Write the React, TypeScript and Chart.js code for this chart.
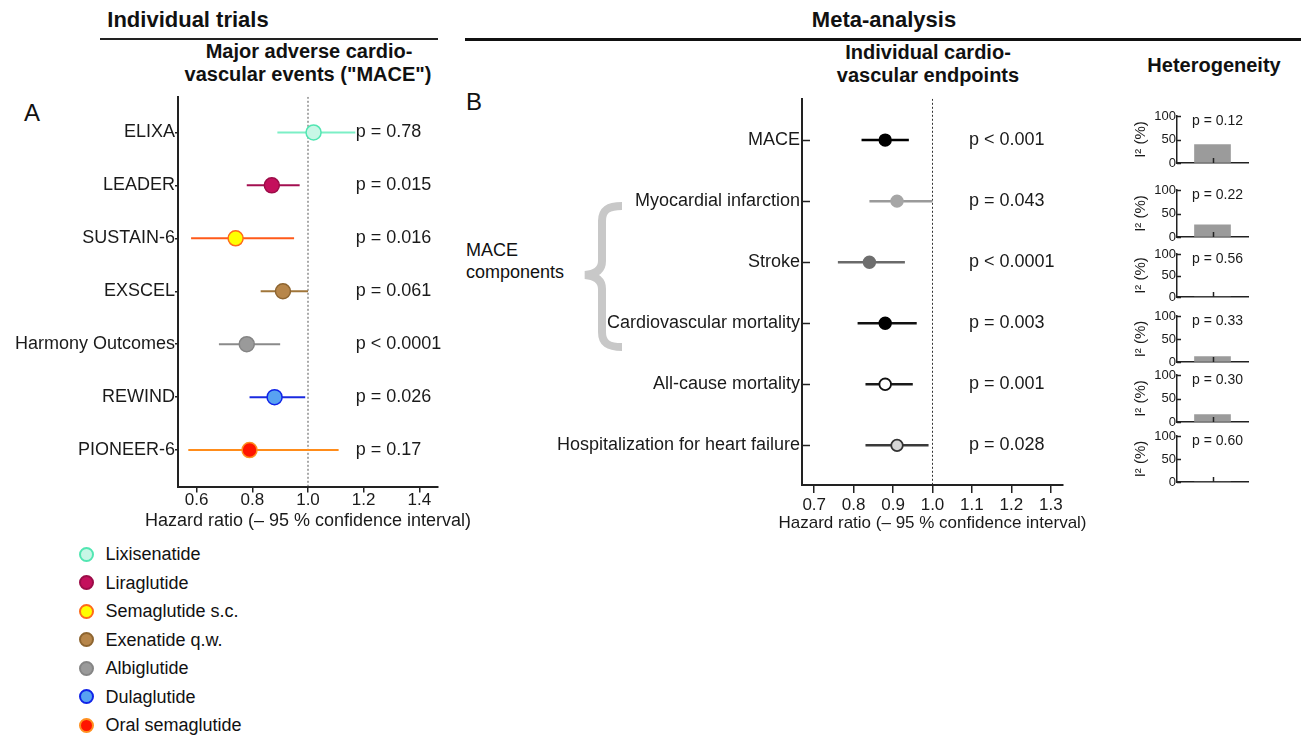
import React, { useEffect, useRef } from 'react';
import { Chart, registerables } from 'chart.js';

Chart.register(...registerables);

const FONT = "'Liberation Sans', Arial, Helvetica, sans-serif";
Chart.defaults.font.family = FONT;
Chart.defaults.color = '#1a1a1a';

// ---------------- Panel A: individual trials ----------------
const trialsA = ['ELIXA', 'LEADER', 'SUSTAIN-6', 'EXSCEL', 'Harmony Outcomes', 'REWIND', 'PIONEER-6'];
const hrA = [1.02, 0.87, 0.74, 0.91, 0.78, 0.88, 0.79];
const loA = [0.89, 0.78, 0.58, 0.83, 0.68, 0.79, 0.57];
const hiA = [1.17, 0.97, 0.95, 1.0, 0.9, 0.99, 1.11];
const pA = ['p = 0.78', 'p = 0.015', 'p = 0.016', 'p = 0.061', 'p < 0.0001', 'p = 0.026', 'p = 0.17'];
const drugsA = ['Lixisenatide', 'Liraglutide', 'Semaglutide s.c.', 'Exenatide q.w.', 'Albiglutide', 'Dulaglutide', 'Oral semaglutide'];
const fillA = ['#c8f7e6', '#c4105c', '#ffff00', '#b7864a', '#9a9a9a', '#58a2f2', '#ff1500'];
const edgeA = ['#52e6b2', '#9c0c48', '#ff6a1a', '#8e6530', '#858585', '#1024e8', '#ff9020'];
const lineA = ['#7cefc6', '#a30f50', '#ff5a1a', '#a0763a', '#8a8a8a', '#1a2ae0', '#ff8c1a'];
const xRangeA = [0.533, 1.467];
const xStepA = 0.2;
const xTitle = 'Hazard ratio (– 95 % confidence interval)';

// ---------------- Panel B: meta-analysis ----------------
const endpointsB = ['MACE', 'Myocardial infarction', 'Stroke', 'Cardiovascular mortality', 'All-cause mortality', 'Hospitalization for heart failure'];
const hrB = [0.88, 0.91, 0.84, 0.88, 0.88, 0.91];
const loB = [0.82, 0.84, 0.76, 0.81, 0.83, 0.83];
const hiB = [0.94, 1.0, 0.93, 0.96, 0.95, 0.99];
const pB = ['p < 0.001', 'p = 0.043', 'p < 0.0001', 'p = 0.003', 'p = 0.001', 'p = 0.028'];
const fillB = ['#000000', '#a6a6a6', '#6e6e6e', '#000000', '#ffffff', '#d6d6d6'];
const edgeB = ['#000000', '#a6a6a6', '#6e6e6e', '#000000', '#111111', '#333333'];
const lineB = ['#000000', '#9a9a9a', '#6a6a6a', '#111111', '#1a1a1a', '#3a3a3a'];
const xRangeB = [0.669, 1.331];
const xStepB = 0.1;

// ---------------- Heterogeneity ----------------
const i2Values = [39, 26, 0, 12, 16, 0];
const i2P = ['p = 0.12', 'p = 0.22', 'p = 0.56', 'p = 0.33', 'p = 0.30', 'p = 0.60'];
const i2Max = 100;
const i2Step = 50;

// layout (page pixel positions of each heterogeneity panel: y of 100 and y of 0)
const hetY100 = [116, 190, 254, 316, 375, 436];
const hetY0 = [163, 237, 297, 362, 422, 482];

const AXIS = '#222222';

type ForestProps = {
  left: number; top: number; width: number; height: number;
  padTop: number; padRight: number; yWidth: number; xHeight: number;
  labels: string[]; hr: number[]; lo: number[]; hi: number[]; p: string[];
  fill: string[]; edge: string[]; line: string[];
  xMin: number; xMax: number; step: number; yMin: number; yMax: number;
  xTickLen: number; xTickPad: number; tickFont: number; labelFont: number; titleFont: number;
  titleY: number;
  yTickLen: number; inwardY: number; pX: number;
  r: number; pbw: number; lw: number; refColor: string;
};

function Forest(p: ForestProps) {
  const ref = useRef<HTMLCanvasElement>(null);
  useEffect(() => {
    const datasets: any[] = [];
    datasets.push({
      data: p.hr.map((v, i) => ({ x: v, y: i })),
      pointRadius: p.r, pointHoverRadius: p.r,
      pointBackgroundColor: p.fill, pointBorderColor: p.edge, pointBorderWidth: p.pbw,
      order: 0,
    });
    p.lo.forEach((lo, i) => {
      datasets.push({
        data: [{ x: lo, y: i }, { x: p.hi[i], y: i }],
        showLine: true, borderColor: p.line[i], borderWidth: p.lw,
        pointRadius: 0, pointHoverRadius: 0, order: 1,
      });
    });
    datasets.push({
      data: [{ x: 1, y: p.yMin }, { x: 1, y: p.yMax }],
      showLine: true, borderColor: p.refColor, borderWidth: 1, borderDash: [2, 2],
      pointRadius: 0, pointHoverRadius: 0, order: 2,
    });

    const textPlugin = {
      id: 'ptext',
      afterDraw(chart: any) {
        const ctx = chart.ctx;
        const ys = chart.scales.y;
        const a = chart.chartArea;
        ctx.save();
        ctx.font = `18px ${FONT}`;
        ctx.fillStyle = '#1a1a1a';
        ctx.textBaseline = 'middle';
        ctx.textAlign = 'left';
        p.p.forEach((t, i) => ctx.fillText(t, p.pX, ys.getPixelForValue(i)));
        // axis title (drawn here so it is not squeezed to the axis width)
        ctx.font = `${p.titleFont}px ${FONT}`;
        ctx.textAlign = 'center';
        ctx.fillText(xTitle, (a.left + a.right) / 2, p.titleY - p.top);
        if (p.inwardY > 0) {
          ctx.strokeStyle = AXIS;
          ctx.lineWidth = 1.5;
          p.labels.forEach((_, i) => {
            const y = Math.round(ys.getPixelForValue(i)) + 0.5;
            ctx.beginPath();
            ctx.moveTo(a.left, y);
            ctx.lineTo(a.left + p.inwardY, y);
            ctx.stroke();
          });
        }
        ctx.restore();
      },
    };

    const chart = new Chart(ref.current as HTMLCanvasElement, {
      type: 'scatter',
      data: { datasets },
      options: {
        animation: false,
        responsive: false,
        devicePixelRatio: 1,
        events: [],
        layout: { padding: { top: p.padTop, right: p.padRight, left: 0, bottom: 0 } },
        plugins: { legend: { display: false }, tooltip: { enabled: false } },
        scales: {
          x: {
            type: 'linear', min: p.xMin, max: p.xMax,
            afterFit: (s: any) => { s.height = p.xHeight; },
            ticks: {
              stepSize: p.step, includeBounds: false, autoSkip: false, maxRotation: 0,
              callback: (v: any) => Number(v).toFixed(1),
              font: { size: p.tickFont, lineHeight: 1 }, color: '#1a1a1a', padding: p.xTickPad,
            },
            grid: { display: true, drawOnChartArea: false, drawTicks: true, tickLength: p.xTickLen, color: AXIS, lineWidth: 1.5 },
            border: { display: true, color: AXIS, width: 2 },
            title: { display: false },
          },
          y: {
            type: 'linear', reverse: true, min: p.yMin, max: p.yMax,
            afterFit: (s: any) => { s.width = p.yWidth; },
            ticks: {
              stepSize: 1, includeBounds: false, autoSkip: false,
              callback: (v: any) => (Number.isInteger(v) && p.labels[v] !== undefined ? p.labels[v] : ''),
              font: { size: p.labelFont }, color: '#1a1a1a', padding: p.yTickLen > 0 ? 0 : 2,
            },
            grid: { display: true, drawOnChartArea: false, drawTicks: p.yTickLen > 0, tickLength: p.yTickLen, color: AXIS, lineWidth: 1.5 },
            border: { display: true, color: AXIS, width: 2 },
          },
        },
      },
      plugins: [textPlugin],
    } as any);
    return () => chart.destroy();
  }, []);
  return (
    <canvas ref={ref} width={p.width} height={p.height}
      style={{ position: 'absolute', left: p.left, top: p.top, width: p.width, height: p.height, display: 'block' }} />
  );
}

function HetPanel({ idx }: { idx: number }) {
  const ref = useRef<HTMLCanvasElement>(null);
  const left = 1125;
  const top = hetY100[idx] - 9;
  const width = 127;
  const height = hetY0[idx] - hetY100[idx] + 18;
  useEffect(() => {
    const plug = {
      id: 'hetText',
      afterDraw(chart: any) {
        const ctx = chart.ctx;
        const a = chart.chartArea;
        ctx.save();
        ctx.strokeStyle = AXIS;
        ctx.lineWidth = 1.5;
        const cx = Math.round((a.left + a.right) / 2) + 0.5;
        ctx.beginPath();
        ctx.moveTo(cx, a.bottom);
        ctx.lineTo(cx, a.bottom - 5);
        ctx.stroke();
        const ys = chart.scales.y;
        [0, i2Step, i2Max].forEach((v) => {
          const y = Math.round(ys.getPixelForValue(v)) + 0.5;
          ctx.beginPath();
          ctx.moveTo(a.left, y);
          ctx.lineTo(a.left + 4, y);
          ctx.stroke();
        });
        ctx.font = `14px ${FONT}`;
        ctx.fillStyle = '#1a1a1a';
        ctx.textAlign = 'center';
        ctx.textBaseline = 'middle';
        ctx.fillText(i2P[idx], (a.left + a.right) / 2 + 5, a.top + 5);
        ctx.restore();
      },
    };
    const chart = new Chart(ref.current as HTMLCanvasElement, {
      type: 'bar',
      data: {
        labels: [''],
        datasets: [{ data: [i2Values[idx]], backgroundColor: '#9b9b9b', barThickness: 36 }],
      },
      options: {
        animation: false,
        responsive: false,
        devicePixelRatio: 1,
        events: [],
        layout: { padding: { top: 9, right: 4, left: 0, bottom: 0 } },
        plugins: { legend: { display: false }, tooltip: { enabled: false } },
        scales: {
          x: {
            type: 'category',
            afterFit: (s: any) => { s.height = 9; },
            ticks: { display: false },
            grid: { display: false },
            border: { display: true, color: AXIS, width: 1.5 },
          },
          y: {
            type: 'linear', min: 0, max: i2Max,
            afterFit: (s: any) => { s.width = 1177 - left; },
            ticks: { stepSize: i2Step, font: { size: 13 }, color: '#1a1a1a', padding: 1 },
            grid: { display: true, drawOnChartArea: false, drawTicks: false },
            border: { display: true, color: AXIS, width: 1.5 },
            title: { display: true, text: 'I² (%)', font: { size: 15 }, color: '#1a1a1a', padding: { top: 7, bottom: 0 } },
          },
        },
      },
      plugins: [plug],
    } as any);
    return () => chart.destroy();
  }, []);
  return (
    <canvas ref={ref} width={width} height={height}
      style={{ position: 'absolute', left, top, width, height, display: 'block' }} />
  );
}

function T({ x, y, children, size = 18, bold = false, align = 'left' }: any) {
  const tx = align === 'center' ? '-50%' : align === 'right' ? '-100%' : '0';
  return (
    <div style={{
      position: 'absolute', left: x, top: y, fontSize: size, fontWeight: bold ? 700 : 400,
      lineHeight: 1, whiteSpace: 'nowrap', transform: `translate(${tx}, -50%)`, color: '#111',
    }}>{children}</div>
  );
}

export default function App() {
  return (
    <div style={{ position: 'absolute', left: 0, top: 0, width: 1301, height: 739, background: '#fff', fontFamily: FONT, overflow: 'hidden' }}>
      {/* Headings */}
      <T x={188} y={20} size={22} bold align="center">Individual trials</T>
      <div style={{ position: 'absolute', left: 100, top: 38, width: 338, height: 2, background: '#222' }} />
      <T x={309} y={51} size={20} bold align="center">Major adverse cardio-</T>
      <T x={308} y={74} size={20} bold align="center">vascular events ("MACE")</T>
      <T x={24} y={113} size={24}>A</T>

      <T x={884} y={20} size={22} bold align="center">Meta-analysis</T>
      <div style={{ position: 'absolute', left: 465, top: 38, width: 836, height: 3, background: '#111' }} />
      <T x={928} y={52} size={20} bold align="center">Individual cardio-</T>
      <T x={928} y={75} size={20} bold align="center">vascular endpoints</T>
      <T x={1214} y={65} size={20} bold align="center">Heterogeneity</T>
      <T x={466} y={102} size={24}>B</T>

      <T x={466} y={250} size={18}>MACE</T>
      <T x={466} y={272} size={18}>components</T>
      <svg width={60} height={170} style={{ position: 'absolute', left: 575, top: 195 }}>
        <path d="M 47 11 C 33 11, 27 15, 27 26 L 27 66 C 27 74, 22 79, 10 80 C 22 81, 27 86, 27 94 L 27 137 C 27 148, 33 152, 47 152"
          fill="none" stroke="#c8c8c8" strokeWidth={8} />
      </svg>

      <Forest
        left={0} top={86} width={495} height={445}
        padTop={10} padRight={57} yWidth={178} xHeight={44.5}
        labels={trialsA} hr={hrA} lo={loA} hi={hiA} p={pA}
        fill={fillA} edge={edgeA} line={lineA}
        xMin={xRangeA[0]} xMax={xRangeA[1]} step={xStepA} yMin={-0.673} yMax={6.688}
        xTickLen={6} xTickPad={-1} tickFont={17} labelFont={18} titleFont={18} titleY={521}
        yTickLen={3} inwardY={0} pX={355.7}
        r={7.5} pbw={1.5} lw={2} refColor="#555555"
      />
      <Forest
        left={460} top={86} width={650} height={446}
        padTop={9} padRight={47} yWidth={342} xHeight={47}
        labels={endpointsB} hr={hrB} lo={loB} hi={hiB} p={pB}
        fill={fillB} edge={edgeB} line={lineB}
        xMin={xRangeB[0]} xMax={xRangeB[1]} step={xStepB} yMin={-0.676} yMax={5.649}
        xTickLen={8} xTickPad={4} tickFont={17} labelFont={18} titleFont={17} titleY={523}
        yTickLen={0} inwardY={8} pX={509}
        r={5.8} pbw={1.8} lw={2.5} refColor="#333333"
      />

      {i2Values.map((_, i) => <HetPanel key={i} idx={i} />)}

      {/* Legend */}
      {drugsA.map((d, i) => (
        <React.Fragment key={d}>
          <div style={{
            position: 'absolute', left: 78.5, top: 554 + i * 28.5 - 7.5, width: 15, height: 15,
            boxSizing: 'border-box', borderRadius: '50%', background: fillA[i], border: `2px solid ${edgeA[i]}`,
          }} />
          <T x={105.5} y={554 + i * 28.5} size={18}>{d}</T>
        </React.Fragment>
      ))}
    </div>
  );
}
